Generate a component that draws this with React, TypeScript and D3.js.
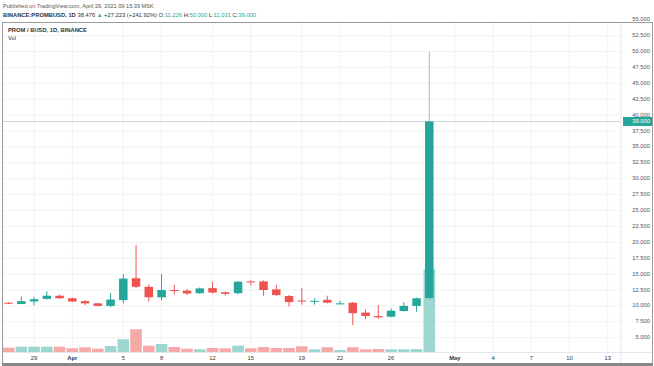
import * as d3 from "d3";

// daily candles PROM/BUSD, Mar 27 - Apr 29 2021
const dates: string[] = [
  "2021-03-27", "2021-03-28", "2021-03-29", "2021-03-30", "2021-03-31",
  "2021-04-01", "2021-04-02", "2021-04-03", "2021-04-04", "2021-04-05",
  "2021-04-06", "2021-04-07", "2021-04-08", "2021-04-09", "2021-04-10",
  "2021-04-11", "2021-04-12", "2021-04-13", "2021-04-14", "2021-04-15",
  "2021-04-16", "2021-04-17", "2021-04-18", "2021-04-19", "2021-04-20",
  "2021-04-21", "2021-04-22", "2021-04-23", "2021-04-24", "2021-04-25",
  "2021-04-26", "2021-04-27", "2021-04-28", "2021-04-29",
];
const opens: number[] = [
  10.5, 10.3, 10.7, 11.1, 11.6, 11.2, 10.75, 10.4, 10.0, 10.9,
  14.35, 13.0, 11.35, 12.5, 12.4, 12.0, 12.8, 12.15, 12.0, 13.85,
  13.85, 12.6, 11.55, 10.85, 10.75, 10.95, 10.35, 10.5, 8.95, 8.4,
  8.3, 9.2, 10.0, 11.226,
];
const highs: number[] = [
  10.6, 11.5, 11.45, 12.3, 11.75, 11.3, 10.9, 10.5, 12.0, 15.0,
  19.6, 13.4, 15.0, 13.3, 12.7, 12.9, 13.8, 12.25, 13.9, 14.0,
  14.0, 13.3, 11.7, 12.8, 11.2, 11.6, 10.8, 10.6, 9.4, 10.1,
  9.6, 10.6, 11.3, 50.0,
];
const lows: number[] = [
  10.3, 10.25, 10.1, 11.0, 11.1, 10.6, 10.1, 9.9, 9.8, 10.4,
  12.8, 10.7, 10.9, 11.8, 11.7, 11.9, 11.95, 11.6, 11.8, 13.2,
  11.6, 11.6, 9.9, 10.2, 10.2, 10.4, 10.3, 7.0, 7.9, 8.0,
  8.2, 9.1, 9.1, 11.031,
];
const closes: number[] = [
  10.35, 10.75, 11.05, 11.6, 11.2, 10.7, 10.4, 10.0, 11.0, 14.3,
  13.0, 11.35, 12.5, 12.4, 11.95, 12.75, 12.1, 11.9, 13.8, 13.75,
  12.5, 11.7, 10.6, 10.75, 10.8, 10.5, 10.4, 8.85, 8.4, 8.2,
  9.25, 10.0, 11.2, 39.0,
];
const volumes: number[] = [
  430, 530, 530, 530, 530, 370, 470, 330, 600, 1270,
  2270, 630, 800, 500, 330, 270, 400, 370, 630, 370,
  500, 400, 400, 570, 270, 470, 200, 470, 270, 300,
  270, 270, 300, 8270,
];

const priceTicks: number[] = [5, 7.5, 10, 12.5, 15, 17.5, 20, 22.5, 25, 27.5, 30, 32.5, 35, 37.5, 40, 42.5, 45, 47.5, 50, 52.5, 55];
const timeTickDates: string[] = ["2021-03-29", "2021-04-01", "2021-04-05", "2021-04-08", "2021-04-12", "2021-04-15", "2021-04-19", "2021-04-22", "2021-04-26", "2021-05-01", "2021-05-04", "2021-05-07", "2021-05-10", "2021-05-13"];
const timeTickLabels: string[] = ["29", "Apr", "5", "8", "12", "15", "19", "22", "26", "May", "4", "7", "10", "13"];
const lastPrice = 39.0;

const UP = "#26a69a";
const DOWN = "#ef5350";
const UP_VOL = "#9dd5cf";
const DOWN_VOL = "#f6a9a7";
const FONT = "'Liberation Sans', Arial, sans-serif";

export default function App() {
  const w = 654;
  const h = 366;
  const paneLeft = 3;
  const paneRight = 621;
  const paneTop = 22;
  const paneBottom = 352;

  const parse = d3.utcParse("%Y-%m-%d");
  const x = d3
    .scaleUtc()
    .domain([parse("2021-03-27")!, parse("2021-05-13")!])
    .range([8.55, 607.8]);
  const y = d3.scaleLinear().domain([5, 55]).range([337.7, 19.7]);
  const yVol = d3.scaleLinear().domain([0, d3.max(volumes)!]).range([paneBottom, 269.3]);

  const bodyW = 8.5;
  const volW = 11.6;

  return (
    <svg
      width={w}
      height={h}
      style={{ position: "absolute", left: 0, top: 0, background: "#fff" }}
      fontFamily={FONT}
    >
      <defs>
        <clipPath id="pane">
          <rect x={paneLeft} y={paneTop} width={paneRight - paneLeft} height={paneBottom - paneTop} />
        </clipPath>
      </defs>

      {/* header */}
      <text x={3} y={8} fontSize={5.6} fill="#555">
        Published on TradingView.com, April 29, 2021 09:15:39 MSK
      </text>
      <text x={3} y={17} fontSize={5.8} fill="#333">
        <tspan fontWeight="bold">BINANCE:PROMBUSD, 1D</tspan>
        <tspan> 38.476 </tspan>
        <tspan fill={UP}>▲</tspan>
        <tspan> +27.223 (+241.92%) O:</tspan>
        <tspan fill={UP}>11.226</tspan>
        <tspan> H:</tspan>
        <tspan fill={UP}>50.000</tspan>
        <tspan> L:</tspan>
        <tspan fill={UP}>11.031</tspan>
        <tspan> C:</tspan>
        <tspan fill={UP}>39.000</tspan>
      </text>

      {/* grid */}
      <g clipPath="url(#pane)">
        {priceTicks.map((p) => (
          <line key={"hg" + p} x1={paneLeft} x2={paneRight} y1={y(p)} y2={y(p)} stroke="#f0f2f5" strokeWidth={1} />
        ))}
        {timeTickDates.map((d) => (
          <line key={"vg" + d} x1={x(parse(d)!)} x2={x(parse(d)!)} y1={paneTop} y2={paneBottom} stroke="#f0f2f5" strokeWidth={1} />
        ))}
      </g>

      {/* volume */}
      <g clipPath="url(#pane)">
        {dates.map((d, i) => (
          <rect
            key={"v" + d}
            x={x(parse(d)!) - volW / 2}
            y={yVol(volumes[i])}
            width={volW}
            height={paneBottom - yVol(volumes[i])}
            fill={closes[i] >= opens[i] ? UP_VOL : DOWN_VOL}
          />
        ))}
      </g>

      {/* last price line */}
      <line x1={paneLeft} x2={paneRight} y1={y(lastPrice)} y2={y(lastPrice)} stroke="#c9d6d5" strokeWidth={1} />

      {/* candles */}
      <g clipPath="url(#pane)">
        {dates.map((d, i) => {
          const cx = x(parse(d)!);
          const up = closes[i] >= opens[i];
          const col = up ? UP : DOWN;
          const top = y(Math.max(opens[i], closes[i]));
          const bot = y(Math.min(opens[i], closes[i]));
          return (
            <g key={"c" + d}>
              <line x1={cx} x2={cx} y1={y(highs[i])} y2={y(lows[i])} stroke={col} strokeWidth={1} opacity={i === dates.length - 1 ? 0.55 : 1} />
              <rect x={cx - bodyW / 2} y={top} width={bodyW} height={Math.max(1, bot - top)} fill={col} />
            </g>
          );
        })}
      </g>

      {/* legend in pane */}
      <text x={8} y={32} fontSize={5.8} fontWeight="bold" fill="#333">
        PROM / BUSD, 1D, BINANCE
      </text>
      <text x={8} y={40} fontSize={5.8} fill="#333">
        Vol
      </text>

      {/* axis borders */}
      <line x1={paneRight} x2={paneRight} y1={paneTop} y2={h - 3} stroke="#e4e7ec" strokeWidth={1} />
      <line x1={paneLeft} x2={w - 2} y1={paneBottom + 0.5} y2={paneBottom + 0.5} stroke="#e4e7ec" strokeWidth={1} />

      {/* price axis */}
      {priceTicks.map((p) => (
        <text key={"pt" + p} x={650} y={y(p)} fontSize={5.8} fill="#555" textAnchor="end" dominantBaseline="middle">
          {d3.format(".3f")(p)}
        </text>
      ))}
      <rect x={623} y={y(lastPrice) - 4.5} width={29} height={9} fill={UP} />
      <text x={650} y={y(lastPrice)} fontSize={5.8} fill="#fff" textAnchor="end" dominantBaseline="middle">
        {d3.format(".3f")(lastPrice)}
      </text>

      {/* time axis */}
      {timeTickDates.map((d, i) => (
        <text
          key={"tt" + d}
          x={x(parse(d)!)}
          y={358}
          fontSize={5.8}
          fill="#333"
          fontWeight={timeTickLabels[i] === "Apr" || timeTickLabels[i] === "May" ? "bold" : "normal"}
          textAnchor="middle"
          dominantBaseline="middle"
        >
          {timeTickLabels[i]}
        </text>
      ))}

      {/* outer frame */}
      <rect x={2.5} y={22.5} width={w - 4} height={h - 25} fill="none" stroke="#9a9a9a" strokeWidth={1} />
      <line x1={2} x2={w - 1} y1={h - 1.5} y2={h - 1.5} stroke="#888" strokeWidth={3} />
    </svg>
  );
}
